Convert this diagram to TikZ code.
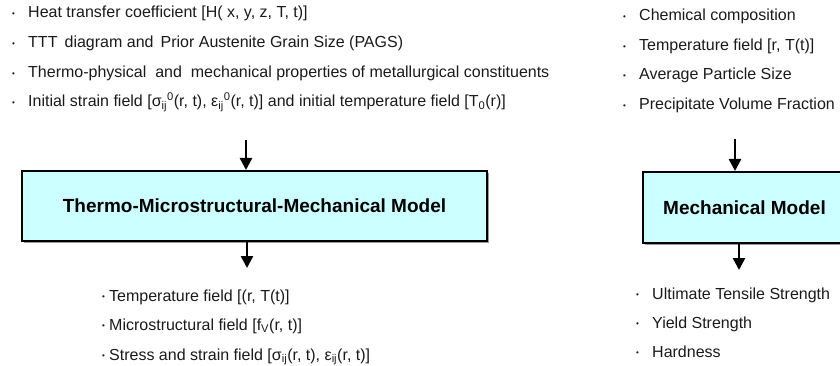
\documentclass[tikz,border=0pt]{standalone}
\usepackage{fontspec}
\setmainfont{Liberation Sans}
\usetikzlibrary{arrows.meta,shadows}
\definecolor{boxfill}{HTML}{CCFFFF}
\definecolor{txt}{HTML}{1A1A1A}
\newcommand\bulA{\makebox[16pt][l]{\raisebox{1.5pt}{\fontsize{8}{8}\selectfont\textbullet}}}
\newcommand\bulB{\makebox[7pt][l]{\raisebox{1.5pt}{\fontsize{8}{8}\selectfont\textbullet}}}
\newcommand\sbs[1]{\textsubscript{#1}}
\newcommand\sps[1]{\textsuperscript{#1}}
\begin{document}
\begin{tikzpicture}[x=1pt,y=-1pt,
  item/.style={anchor=west,inner sep=0pt,text height=12pt,text depth=4pt,
    font=\fontsize{16}{18}\selectfont,text=txt},
  model/.style={draw=black,line width=2pt,fill=boxfill,inner sep=0pt,
    drop shadow={shadow xshift=2pt,shadow yshift=-2pt,fill=gray!80,opacity=1},
    font=\fontsize{19}{21}\selectfont\bfseries},
  arr/.style={line width=2.5pt,-{Triangle[width=12pt,length=12pt]}}]
\clip (0,0) rectangle (840,366);
\useasboundingbox (0,0) rectangle (840,366);
% left inputs
\node[item] (l1) at (12,14) {\bulA Heat transfer coefficient [H( x, y, z, T, t)]};
\node[item] (l2) at (12,44) {\bulA TTT\ \,diagram and\ \,Prior Austenite Grain Size (PAGS)};
\node[item] (l3) at (12,74) {\bulA Thermo-physical\ \ and\ \ mechanical properties of metallurgical constituents};
\node[item] (l4) at (12,103) {\bulA Initial strain field [σ\sbs{ij}\sps{0}(r, t), ε\sbs{ij}\sps{0}(r, t)] and initial temperature field [T\sbs{0}(r)]};
% left model
\node[model,minimum width=465pt,minimum height=70pt] (m1) at (254.5,206) {Thermo-Microstructural-Mechanical Model};
\coordinate (a1) at (246,140);
\draw[arr] (a1) -- (a1 |- m1.north);
\coordinate (a2) at (247,268);
\draw[arr] (a2 |- m1.south) -- (a2);
% left outputs
\node[item] (o1) at (102,297) {\bulB Temperature field [(r, T(t)]};
\node[item] (o2) at (102,326) {\bulB Microstructural field [f\sbs{V}(r, t)]};
\node[item] (o3) at (102,356) {\bulB Stress and strain field [σ\sbs{ij}(r, t), ε\sbs{ij}(r, t)]};
% right inputs
\node[item] (r1) at (623,17) {\bulA Chemical composition};
\node[item] (r2) at (623,47) {\bulA Temperature field [r, T(t)]};
\node[item] (r3) at (623,76) {\bulA Average Particle Size};
\node[item] (r4) at (623,106) {\bulA Precipitate Volume Fraction};
% right model
\node[model,minimum width=203pt,minimum height=71pt] (m2) at (744.5,207.5) {Mechanical Model};
\coordinate (a3) at (735,139);
\draw[arr] (a3) -- (a3 |- m2.north);
\coordinate (a4) at (739,270);
\draw[arr] (a4 |- m2.south) -- (a4);
% right outputs
\node[item] (s1) at (636,295) {\bulA Ultimate Tensile Strength};
\node[item] (s2) at (636,324) {\bulA Yield Strength};
\node[item] (s3) at (636,353) {\bulA Hardness};
\end{tikzpicture}
\end{document}
